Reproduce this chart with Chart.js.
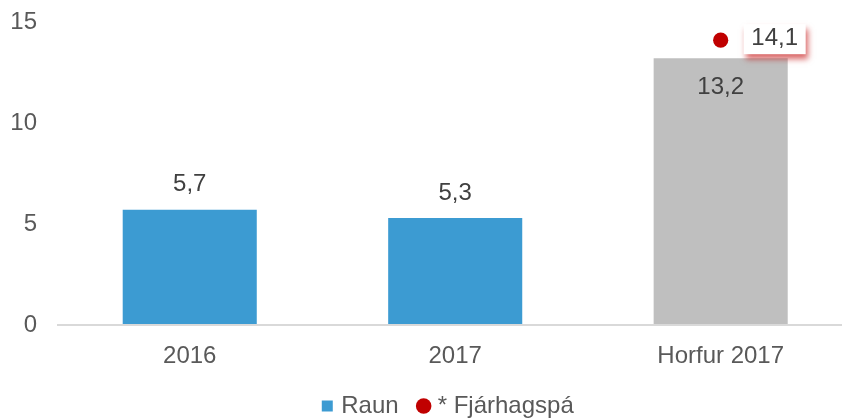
<!DOCTYPE html>
<html>
<head>
<meta charset="utf-8">
<script src="https://cdn.jsdelivr.net/npm/chart.js@4/dist/chart.umd.min.js"></script>
<style>
html, body { margin: 0; padding: 0; background: #fff; overflow: hidden; }
#wrap { width: 842px; height: 419px; position: relative; }
</style>
</head>
<body>
<div id="wrap"><canvas id="chart"></canvas></div>
<script>
// ===== DATA =====
const categories = ["2016", "2017", "Horfur 2017"];
const raun = [5.7, 5.3, 13.2];
const fjarhagspa = [null, null, 14.1];
const yTicks = [0, 5, 10, 15];

// ===== COLORS =====
const blue = "#3c9bd2";
const grey = "#bfbfbf";
const red = "#c00000";
const tickColor = "#595959";
const labelColor = "#404040";

Chart.defaults.font.family = '"Liberation Sans", Arial, sans-serif';
Chart.defaults.font.size = 24;

const fmt = v => v.toFixed(1).replace(".", ",");

// ===== VALUE LABELS =====
const valueLabels = {
    id: "valueLabels",
    afterDatasetsDraw(chart) {
        const ctx = chart.ctx;
        ctx.save();
        ctx.font = '24px "Liberation Sans", Arial, sans-serif';
        ctx.textAlign = "center";
        ctx.textBaseline = "middle";
        ctx.fillStyle = labelColor;

        // bar labels: above the bar, the forecast-year one inside it
        chart.getDatasetMeta(0).data.forEach((bar, i) => {
            const dy = i === 2 ? 29 : -25;
            ctx.fillText(fmt(raun[i]), bar.x, bar.y + dy);
        });

        // budget point label in a white box with a red shadow
        const pts = chart.getDatasetMeta(1).data;
        const ds = chart.data.datasets[1].data;
        pts.forEach((pt, j) => {
            const left = pt.x + 23, top = pt.y - 16, w = 62, h = 30;
            ctx.save();
            ctx.shadowColor = "rgba(192,0,0,0.6)";
            ctx.shadowBlur = 6;
            ctx.shadowOffsetX = 2;
            ctx.shadowOffsetY = 5;
            ctx.fillStyle = "#fff";
            ctx.fillRect(left, top, w, h);
            ctx.restore();
            ctx.fillStyle = labelColor;
            ctx.fillText(fmt(ds[j].y), left + w / 2, top + 14);
        });
        ctx.restore();
    }
};

new Chart(document.getElementById("chart"), {
    type: "bar",
    data: {
        datasets: [{
            label: "Raun",
            data: raun.map((v, i) => ({ x: i, y: v })),
            backgroundColor: raun.map((v, i) => i === 2 ? grey : blue),
            legendColor: blue,
            barPercentage: 0.505,
            categoryPercentage: 1,
            order: 2
        }, {
            type: "line",
            label: "* Fjárhagspá",
            data: fjarhagspa.map((v, i) => v == null ? null : ({ x: i, y: v })).filter(p => p),
            showLine: false,
            pointRadius: 7.6,
            pointBackgroundColor: red,
            pointBorderWidth: 0,
            legendColor: red,
            order: 1
        }]
    },
    options: {
        responsive: true,
        maintainAspectRatio: false,
        animation: false,
        layout: { autoPadding: false, padding: { top: 22, left: 0, right: 0, bottom: -9 } },
        plugins: {
            tooltip: { enabled: false },
            legend: {
                position: "bottom",
                fullSize: false,
                labels: {
                    usePointStyle: true,
                    boxWidth: 4,
                    boxHeight: 11,
                    padding: 23,
                    color: tickColor,
                    font: { size: 24 },
                    generateLabels: chart => chart.data.datasets.map((ds, i) => ({
                        text: ds.label,
                        fillStyle: ds.legendColor,
                        strokeStyle: ds.legendColor,
                        lineWidth: 0,
                        pointStyle: i === 0 ? "rect" : "circle",
                        fontColor: tickColor,
                        hidden: false,
                        datasetIndex: i
                    }))
                }
            }
        },
        scales: {
            x: {
                type: "linear",
                offset: false,
                min: -0.5,
                max: 2.457,
                afterBuildTicks: s => { s.ticks = categories.map((c, i) => ({ value: i })); },
                afterFit: s => { s.height = 46; s.paddingLeft = 0; s.paddingRight = 0; },
                ticks: {
                    callback: v => categories[v],
                    padding: 17,
                    color: tickColor,
                    font: { size: 24 },
                    maxRotation: 0
                },
                grid: { display: false, drawTicks: false },
                border: { display: false }
            },
            y: {
                min: 0,
                max: 15,
                afterBuildTicks: s => { s.ticks = yTicks.map(v => ({ value: v })); },
                afterFit: s => { s.width = 57; s.paddingTop = 0; s.paddingBottom = 0; },
                ticks: { padding: 20, color: tickColor, font: { size: 24 } },
                grid: {
                    color: c => c.tick && c.tick.value === 0 ? "#d9d9d9" : "rgba(0,0,0,0)",
                    lineWidth: 2,
                    drawTicks: false
                },
                border: { display: false }
            }
        }
    },
    plugins: [valueLabels]
});
</script>
</body>
</html>
